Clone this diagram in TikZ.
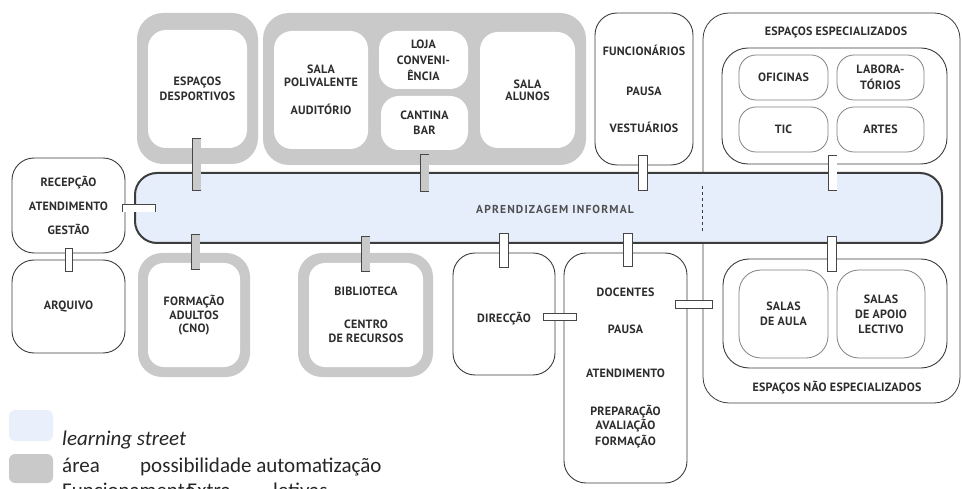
\documentclass[tikz,border=0pt]{standalone}
\usepackage{fontspec}
\setmainfont{PT Sans}
\newfontfamily\legfont{Carlito}
\newfontfamily\streetfont[LetterSpace=10]{PT Sans}
\newfontfamily\labfont[LetterSpace=2]{PT Sans}
\usetikzlibrary{calc}
\definecolor{framegray}{RGB}{201,201,201}
\definecolor{streetfill}{RGB}{230,238,251}
\definecolor{legblue}{RGB}{233,240,252}
\definecolor{boxline}{RGB}{60,60,60}
\definecolor{barline}{RGB}{70,70,70}
\definecolor{subline}{RGB}{130,130,130}
\definecolor{txt}{RGB}{45,45,45}
\definecolor{stxt}{RGB}{80,80,80}
\begin{document}
\begin{tikzpicture}[x=1pt,y=-1pt,
  lab/.style={font=\labfont\fontsize{12}{14.5}\selectfont\bfseries, text=txt, align=center, inner sep=0pt},
  wbox/.style={draw=boxline, line width=0.9pt, fill=white, rounded corners=22pt, inner sep=0pt, lab},
  gframe/.style={fill=framegray, draw=none, rounded corners=26pt, inner sep=0pt},
  inbox/.style={fill=white, draw=none, rounded corners=18pt, inner sep=0pt, lab},
  subbox/.style={draw=subline, line width=0.8pt, fill=white, rounded corners=17pt, inner sep=0pt, lab},
  gbar/.style={draw=barline, line width=9.5pt, postaction={draw=framegray, line width=8pt, shorten <=0.75pt, shorten >=0.75pt}},
  wbar/.style={draw=barline, line width=9.5pt, postaction={draw=white, line width=8pt, shorten <=0.75pt, shorten >=0.75pt}},
  hbar/.style={draw=barline, line width=8pt, postaction={draw=white, line width=6.5pt, shorten <=0.75pt, shorten >=0.75pt}},
  legsw/.style={draw=none, rounded corners=6pt, inner sep=0pt},
  legtxt/.style={font=\legfont\fontsize{21}{25}\selectfont, text=black!85, inner sep=0pt, anchor=base west},
]
\useasboundingbox (0,0) rectangle (962,489);
\clip (0,0) rectangle (962,489);

% ---- top gray frames
\node[gframe, minimum width=121pt, minimum height=151pt] (g1out) at (197.5,88.5) {};
\node[inbox, minimum width=99pt, minimum height=118pt] (g1) at (197.5,89) {ESPAÇOS\\[1pt]DESPORTIVOS};

\node[gframe, minimum width=323pt, minimum height=152pt] (g2out) at (424.5,89) {};
\node[inbox, minimum width=94pt, minimum height=118pt] (sp) at (321,90) {SALA\\[-1.5pt]POLIVALENTE\\[14pt]AUDITÓRIO};
\node[inbox, minimum width=89pt, minimum height=58pt] (loja) at (423.5,60) {LOJA\\[2pt]CONVENI-\\[1pt]ÊNCIA};
\node[inbox, minimum width=87pt, minimum height=54pt] (cant) at (424.5,123) {CANTINA\\[1pt]BAR};
\node[inbox, minimum width=95pt, minimum height=116pt] (sa) at (527.5,90) {SALA\\[-2.5pt]ALUNOS};

% ---- staff box
\node[wbox, minimum width=98pt, minimum height=152pt] (func) at (644,89) {FUNCIONÁRIOS\\[25pt]PAUSA\\[23pt]VESTUÁRIOS};

% ---- container of teaching spaces
\node[draw=boxline, line width=0.8pt, fill=white, rounded corners=26pt, minimum width=257pt, minimum height=390pt, inner sep=0pt] (cont) at (831.5,208) {};
\node[lab] (espl) at (836,32) {ESPAÇOS ESPECIALIZADOS};
\node[wbox, rounded corners=26pt, minimum width=225pt, minimum height=116pt] (espec) at (834.5,106) {};
\node[subbox, minimum width=89pt, minimum height=45pt] (ofic) at (783.5,77.5) {OFICINAS};
\node[subbox, minimum width=87pt, minimum height=45pt] (labo) at (880.5,77.5) {LABORA-\\[2pt]TÓRIOS};
\node[subbox, minimum width=89pt, minimum height=45pt] (tic) at (783.5,129.5) {TIC};
\node[subbox, minimum width=87pt, minimum height=45pt] (artes) at (880.5,129.5) {ARTES};

\node[wbox, rounded corners=26pt, minimum width=224pt, minimum height=109pt] (nesp) at (835,313.5) {};
\node[subbox, rounded corners=22pt, minimum width=89pt, minimum height=88pt] (sda) at (783.5,314) {SALAS\\[0.5pt]DE AULA};
\node[subbox, rounded corners=22pt, minimum width=88pt, minimum height=88pt] (sal) at (881,314) {SALAS\\[0.5pt]DE APOIO\\[0.5pt]LECTIVO};
\node[lab] (nespl) at (837,388) {ESPAÇOS NÃO ESPECIALIZADOS};

% ---- left boxes
\node[wbox, minimum width=113pt, minimum height=95pt] (recep) at (68.5,205.5) {RECEPÇÃO\\[9.5pt]ATENDIMENTO\\[9.5pt]GESTÃO};
\node[wbox, minimum width=113pt, minimum height=93pt] (arq) at (68.5,306.5) {ARQUIVO};

% ---- bottom gray frames
\node[gframe, rounded corners=24pt, minimum width=112pt, minimum height=124pt] (formout) at (194,315) {};
\node[inbox, rounded corners=16pt, minimum width=92pt, minimum height=104pt] (form) at (194,315) {FORMAÇÃO\\[-1pt]ADULTOS\\[-1.5pt](CNO)};
\node[gframe, rounded corners=24pt, minimum width=135pt, minimum height=124pt] (bibout) at (365.5,315) {};
\node[inbox, rounded corners=16pt, minimum width=114pt, minimum height=104pt] (bib) at (366,315) {BIBLIOTECA\\[18pt]CENTRO\\[-0.5pt]DE RECURSOS};

% ---- bottom white boxes
\node[wbox, minimum width=102pt, minimum height=122pt] (dir) at (504,314) {\raisebox{-5pt}[\height][\depth]{DIRECÇÃO}};
\node[wbox, minimum width=123pt, minimum height=230pt] (doc) at (625.5,368) {DOCENTES\\[23pt]PAUSA\\[29pt]ATENDIMENTO\\[24pt]PREPARAÇÃO\\[-0.5pt]AVALIAÇÃO\\[1.5pt]FORMAÇÃO};

% ---- learning street
\node[draw=boxline, line width=2pt, fill=streetfill, rounded corners=22pt, minimum width=807pt, minimum height=70pt, inner sep=0pt] (street) at (538.5,208) {};
\node[font=\streetfont\fontsize{11.5}{13}\selectfont\bfseries, text=stxt, inner sep=0pt] (stlab) at (555,209) {APRENDIZAGEM INFORMAL};
\draw[boxline, line width=1.6pt, dash pattern=on 3.5pt off 2.5pt] ($(cont.west |- street.north)+(0,14)$) -- ($(cont.west |- street.south)+(0,-10)$);

% ---- connectors (bars)
\path[gbar] ($(g1.south)+(-1,-10)$) -- ($(street.north -| g1.south)+(-1,19)$);
\path[gbar] ($(g2out.south -| cant.south)+(0,-11)$) -- ($(street.north -| cant.south)+(0,20)$);
\path[wbar] ($(func.south)+(-1,-10)$) -- ($(street.north -| func.south)+(-1,19)$);
\path[wbar] ($(espec.south)+(-2,-9)$) -- ($(street.north -| espec.south)+(-2,19)$);
\path[gbar] ($(street.south -| formout.north)+(1.5,-10)$) -- ($(formout.north)+(1.5,17)$);
\path[gbar] ($(street.south -| bibout.north)+(0,-8)$) -- ($(bibout.north)+(0,19)$);
\path[wbar] ($(street.south -| dir.north)+(0,-11)$) -- ($(dir.north)+(0,15)$);
\path[wbar] ($(street.south -| doc.north)+(2.5,-11)$) -- ($(doc.north)+(2.5,14)$);
\path[wbar] ($(street.south -| nesp.north)+(-3,-8)$) -- ($(nesp.north)+(-3,13)$);
\path[hbar] ($(recep.east)+(-3,3)$) -- ($(recep.east -| street.west)+(22,3)$);
\path[hbar, line width=8.5pt] ($(recep.south)+(0.5,-5)$) -- ($(arq.north)+(0.5,12)$);
\path[hbar] ($(dir.east)+(-12,3)$) -- ($(dir.east -| doc.west)+(13,3)$);
\path[hbar, line width=9pt] ($(doc.east)+(-12,-63.5)$) -- ($(doc.east -| cont.west)+(10,-63.5)$);

% ---- legend
\node[legsw, fill=legblue, minimum width=44pt, minimum height=31pt] (lg1) at (31,425.5) {};
\node[legsw, fill=framegray, minimum width=44pt, minimum height=29pt] (lg2) at (31,468.5) {};
\node[legtxt] (lt1) at (62,445) {\itshape learning street};
\node[legtxt] (lt2) at (62,472) {área};
\node[legtxt] (lt3) at (140,472) {possibilidade automatização};
\node[legtxt] (lt4) at (62,497) {Funcionamento};
\node[legtxt] (lt5) at (187,497) {Extra};
\node[legtxt] (lt6) at (273,497) {letivas};
\end{tikzpicture}
\end{document}
